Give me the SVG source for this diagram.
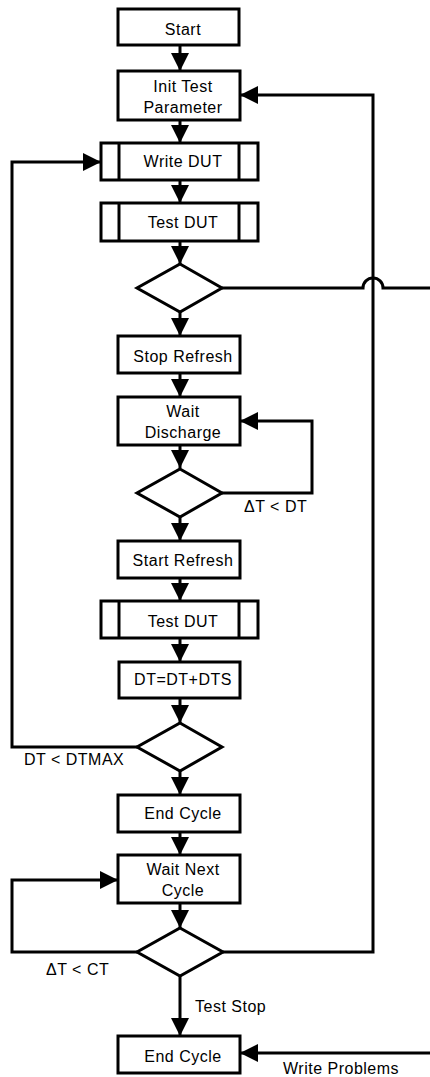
<svg xmlns="http://www.w3.org/2000/svg" width="430" height="1077" viewBox="0 0 430 1077">
<style>
.box{fill:#fff;stroke:#000;stroke-width:3}
.ln{fill:none;stroke:#000;stroke-width:3}
.t{font-family:"Liberation Sans",Arial,sans-serif;font-size:16px;letter-spacing:0.5px;fill:#000}
.c{text-anchor:middle}
</style>
<defs>
<marker id="ah" markerUnits="userSpaceOnUse" markerWidth="18" markerHeight="18" viewBox="0 0 16 16" refX="16" refY="8" orient="auto">
<path d="M0,0 L16,8 L0,16 Z" fill="#000"/>
</marker>
</defs>
<rect width="430" height="1077" fill="#fff"/>
<g id="connectors">
<path class="ln" d="M180,45 V71" marker-end="url(#ah)"/>
<path class="ln" d="M180,120 V143" marker-end="url(#ah)"/>
<path class="ln" d="M180,180 V203" marker-end="url(#ah)"/>
<path class="ln" d="M180,241 V264" marker-end="url(#ah)"/>
<path class="ln" d="M222,288 H363 A10,10 0 0 1 383,288 H430"/>
<path class="ln" d="M180,312 V336" marker-end="url(#ah)"/>
<path class="ln" d="M180,373 V397" marker-end="url(#ah)"/>
<path class="ln" d="M180,445 V468" marker-end="url(#ah)"/>
<path class="ln" d="M222,493 H312 V421 H240" marker-end="url(#ah)"/>
<path class="ln" d="M180,517 V541" marker-end="url(#ah)"/>
<path class="ln" d="M180,578 V601" marker-end="url(#ah)"/>
<path class="ln" d="M180,638 V662" marker-end="url(#ah)"/>
<path class="ln" d="M180,698 V723" marker-end="url(#ah)"/>
<path class="ln" d="M137,747 H12 V162 H101" marker-end="url(#ah)"/>
<path class="ln" d="M180,771 V795" marker-end="url(#ah)"/>
<path class="ln" d="M180,832 V855" marker-end="url(#ah)"/>
<path class="ln" d="M180,903 V928" marker-end="url(#ah)"/>
<path class="ln" d="M137,952 H12 V880 H118" marker-end="url(#ah)"/>
<path class="ln" d="M223,952 H373 V95 H240" marker-end="url(#ah)"/>
<path class="ln" d="M180,976 V1036" marker-end="url(#ah)"/>
<path class="ln" d="M430,1053 H240" marker-end="url(#ah)"/>
<text class="t" x="244" y="512">ΔT &lt; DT</text>
<text class="t" x="24" y="765">DT &lt; DTMAX</text>
<text class="t" x="46" y="975">ΔT &lt; CT</text>
<text class="t" x="195" y="1012">Test Stop</text>
<text class="t" x="283" y="1074">Write Problems</text>
</g>
<g id="start"><rect class="box" x="118" y="9" width="121" height="36"/><text class="t c" x="183" y="35">Start</text></g>
<g id="init"><rect class="box" x="118" y="71" width="122" height="49"/><text class="t c" x="183" y="91.5">Init Test</text><text class="t c" x="183" y="112.5">Parameter</text></g>
<g id="write-dut"><rect class="box" x="101" y="143" width="157" height="37"/><path class="ln" d="M119,143 V180 M239,143 V180"/><text class="t c" x="183" y="167">Write DUT</text></g>
<g id="test-dut-1"><rect class="box" x="101" y="203" width="157" height="38"/><path class="ln" d="M119,203 V241 M239,203 V241"/><text class="t c" x="183" y="228">Test DUT</text></g>
<g id="decision-1"><path class="box" d="M180,264 L222,288 L180,312 L137,288 Z"/></g>
<g id="stop-refresh"><rect class="box" x="118" y="336" width="122" height="37"/><text class="t c" x="183" y="361.5">Stop Refresh</text></g>
<g id="wait-discharge"><rect class="box" x="118" y="397" width="122" height="48"/><text class="t c" x="183" y="416.5">Wait</text><text class="t c" x="183" y="437.5">Discharge</text></g>
<g id="decision-2"><path class="box" d="M180,469 L222,493 L180,517 L137,493 Z"/></g>
<g id="start-refresh"><rect class="box" x="118" y="541" width="122" height="37"/><text class="t c" x="183" y="566">Start Refresh</text></g>
<g id="test-dut-2"><rect class="box" x="101" y="601" width="157" height="37"/><path class="ln" d="M119,601 V638 M239,601 V638"/><text class="t c" x="183" y="626.5">Test DUT</text></g>
<g id="dt-update"><rect class="box" x="119" y="662" width="121" height="36"/><text class="t c" x="183" y="685">DT=DT+DTS</text></g>
<g id="decision-3"><path class="box" d="M180,723 L222,747 L180,771 L137,747 Z"/></g>
<g id="end-cycle-1"><rect class="box" x="118" y="795" width="122" height="37"/><text class="t c" x="183" y="819">End Cycle</text></g>
<g id="wait-next-cycle"><rect class="box" x="118" y="855" width="122" height="48"/><text class="t c" x="183" y="875">Wait Next</text><text class="t c" x="183" y="896">Cycle</text></g>
<g id="decision-4"><path class="box" d="M180,928 L223,952 L180,976 L137,952 Z"/></g>
<g id="end-cycle-2"><rect class="box" x="118" y="1036" width="122" height="37"/><text class="t c" x="183" y="1061.5">End Cycle</text></g>
</svg>
